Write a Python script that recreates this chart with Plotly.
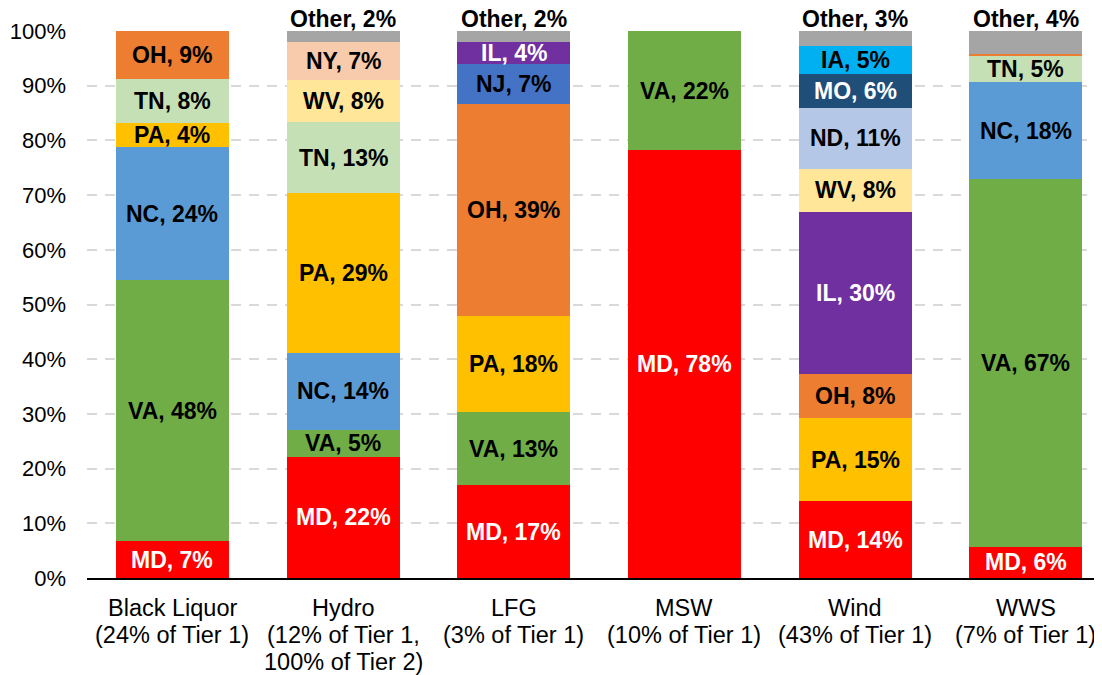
import plotly.graph_objects as go

categories = ["Black Liquor", "Hydro", "LFG", "MSW", "Wind", "WWS"]
category_lines = [
    ["Black Liquor", "(24% of Tier 1)"],
    ["Hydro", "(12% of Tier 1,", "100% of Tier 2)"],
    ["LFG", "(3% of Tier 1)"],
    ["MSW", "(10% of Tier 1)"],
    ["Wind", "(43% of Tier 1)"],
    ["WWS", "(7% of Tier 1)"],
]

# share (%) of each state within each resource category
MD = [6.7, 22.2, 17.0, 78.2, 14.0, 5.7]
VA = [47.7, 4.9, 13.3, 21.8, None, 67.3]
NC = [24.4, 14.0, None, None, None, 17.6]
PA = [4.4, 29.2, 17.6, None, 15.3, None]
TN = [8.0, 13.0, None, None, None, 4.8]
OH = [8.8, None, 38.7, None, 8.0, 0.4]
NJ = [None, None, 7.4, None, None, None]
IL = [None, None, 4.0, None, 29.6, None]
WV = [None, 7.7, None, None, 7.9, None]
ND = [None, None, None, None, 11.2, None]
MO = [None, None, None, None, 6.1, None]
IA = [None, None, None, None, 5.2, None]
NY = [None, 7.0, None, None, None, None]
OTHER = [None, 2.0, 2.0, None, 2.7, 4.2]

series = [
    ("MD", MD), ("VA", VA), ("NC", NC), ("PA", PA), ("TN", TN), ("OH", OH),
    ("NJ", NJ), ("IL", IL), ("WV", WV), ("ND", ND), ("MO", MO), ("IA", IA),
    ("NY", NY), ("Other", OTHER),
]

colors = {
    "MD": "#FF0000", "VA": "#70AD47", "NC": "#5B9BD5", "PA": "#FFC000",
    "TN": "#C5E0B4", "OH": "#ED7D31", "NJ": "#4472C4", "IL": "#7030A0",
    "WV": "#FFE699", "ND": "#B4C7E7", "MO": "#1F4E79", "IA": "#00B0F0",
    "NY": "#F8CBAD", "Other": "#A5A5A5",
}
white_text = {"MD", "IL", "MO"}

y_ticks = [0, 10, 20, 30, 40, 50, 60, 70, 80, 90, 100]
y_tick_labels = [f"{v}%" for v in y_ticks]

FONT = "Liberation Sans, Arial, sans-serif"
BAR_W = 0.662

fig = go.Figure()
for name, vals in series:
    fig.add_trace(go.Bar(
        x=categories, y=vals, name=name, width=BAR_W,
        marker=dict(color=colors[name], line=dict(width=0)),
        showlegend=False,
    ))

annotations = []
for i, cat in enumerate(categories):
    base = 0.0
    for name, vals in series:
        v = vals[i]
        if v is None:
            continue
        label = f"{name}, {round(v)}%"
        if name == "Other":
            top = min(round(base + v, 6), 100.0)
            annotations.append(dict(
                x=cat, y=top, xref="x", yref="y", text=label,
                showarrow=False, yanchor="bottom", yshift=-3,
                font=dict(family=FONT, size=23, color="black", weight="bold"),
            ))
        elif v >= 1:
            annotations.append(dict(
                x=cat, y=base + v / 2, xref="x", yref="y", text=label,
                showarrow=False, yanchor="middle",
                font=dict(family=FONT, size=23, weight="bold",
                          color="white" if name in white_text else "black"),
            ))
        base += v
    for j, line in enumerate(category_lines[i]):
        annotations.append(dict(
            x=cat, y=0, xref="x", yref="y", text=line, showarrow=False,
            yanchor="middle", yshift=-(30 + 27 * j),
            font=dict(family=FONT, size=23.5, color="black"),
        ))

fig.update_layout(
    barmode="stack",
    width=1094, height=667,
    margin=dict(l=79, r=0, t=23, b=97, autoexpand=False),
    plot_bgcolor="white", paper_bgcolor="white",
    annotations=annotations,
    xaxis=dict(
        type="category", range=[-0.5, 5.446], automargin=False,
        showticklabels=False, ticks="", showgrid=False,
        showline=True, linecolor="black", linewidth=2,
    ),
    yaxis=dict(
        range=[0, 100], tickvals=y_ticks, ticktext=y_tick_labels,
        automargin=False,
        tickfont=dict(family=FONT, size=22, color="black"),
        showgrid=True, gridcolor="#D9D9D9", gridwidth=2, griddash="10px,8px",
        zeroline=False, showline=False, ticks="", ticklabelstandoff=20,
    ),
)

fig.write_html("out.html")
